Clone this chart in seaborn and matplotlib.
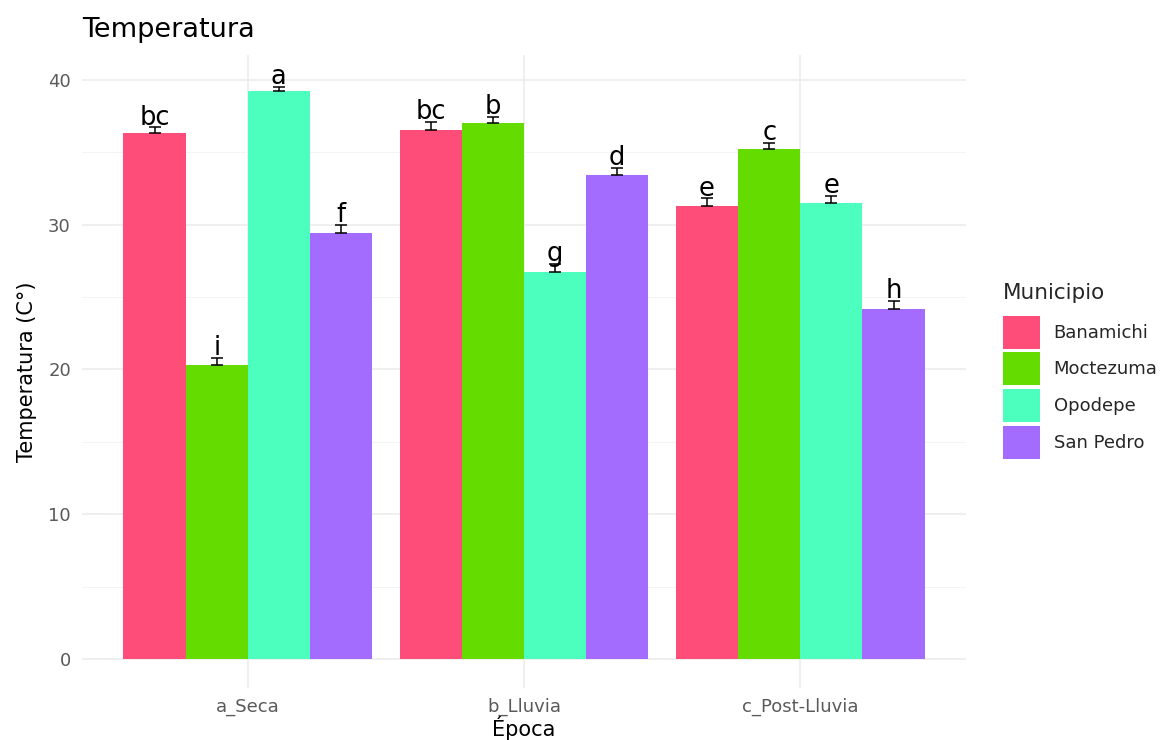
import numpy as np
import pandas as pd
import seaborn as sns
import matplotlib
matplotlib.use("Agg")
import matplotlib.pyplot as plt

# Mean temperature per season and municipality, with standard error and
# significance-group letters from the post-hoc comparison.
epocas = ["a_Seca", "b_Lluvia", "c_Post-Lluvia"]
municipios = ["Banamichi", "Moctezuma", "Opodepe", "San Pedro"]

temp_seca = [36.3, 20.3, 39.2, 29.4]
temp_lluvia = [36.5, 37.0, 26.7, 33.4]
temp_post = [31.3, 35.2, 31.5, 24.2]

se_seca = [0.4, 0.5, 0.3, 0.6]
se_lluvia = [0.55, 0.45, 0.55, 0.5]
se_post = [0.5, 0.45, 0.5, 0.5]

letras_seca = ["bc", "i", "a", "f"]
letras_lluvia = ["bc", "b", "g", "d"]
letras_post = ["e", "c", "e", "h"]

colores = ["#FF4D79", "#64DC00", "#4DFFBE", "#A36CFF"]

rows = []
for ep, vals, ses, lets in zip(
    epocas,
    [temp_seca, temp_lluvia, temp_post],
    [se_seca, se_lluvia, se_post],
    [letras_seca, letras_lluvia, letras_post],
):
    for mun, v, s, l in zip(municipios, vals, ses, lets):
        rows.append({"Epoca": ep, "Municipio": mun, "Temperatura": v, "se": s, "letra": l})
df = pd.DataFrame(rows)

sns.set_theme(style="white")
plt.rcParams["font.family"] = ["DejaVu Sans"]

fig = plt.figure(figsize=(11.67, 7.40), dpi=100)
ax = fig.add_axes([0.0703, 0.0703, 0.7575, 0.8554])

sns.barplot(
    data=df, x="Epoca", y="Temperatura", hue="Municipio",
    order=epocas, hue_order=municipios, palette=colores,
    width=0.9, errorbar=None, saturation=1, linewidth=0, ax=ax, zorder=2,
)

# error bars (upper half) and group letters on top of each bar
for mun, cont in zip(municipios, ax.containers):
    sub = df[df["Municipio"] == mun].set_index("Epoca").loc[epocas]
    for patch, (_, r) in zip(cont.patches, sub.iterrows()):
        xc = patch.get_x() + patch.get_width() / 2
        h = patch.get_height()
        ax.errorbar(xc, h, yerr=[[0], [r["se"]]], fmt="none", ecolor="black",
                    elinewidth=1.1, capsize=4.0, capthick=1.1, zorder=3)
        ax.text(xc, h + r["se"] + 0.2, r["letra"], ha="center", va="baseline",
                fontsize=18.5, color="black", zorder=4)

ax.set_xlim(-0.6, 2.6)
ax.set_ylim(-1.985, 41.7)
ax.set_yticks([0, 10, 20, 30, 40])
ax.set_yticks([5, 15, 25, 35], minor=True)
ax.grid(True, which="major", axis="both", color="#EBEBEB", linewidth=1.1, zorder=0)
ax.grid(True, which="minor", axis="y", color="#F3F3F3", linewidth=0.6, zorder=0)
ax.set_axisbelow(True)
for sp in ax.spines.values():
    sp.set_visible(False)
ax.tick_params(axis="both", which="both", length=0, labelsize=13, colors="#5A5A5A")
ax.tick_params(axis="y", pad=8)
ax.tick_params(axis="x", pad=7)

ax.set_xlabel("Época", fontsize=15, color="black", labelpad=0)
ax.set_ylabel("Temperatura (C°)", fontsize=15, color="black", labelpad=8)
ax.set_title("Temperatura", loc="left", fontsize=19.5, color="black", pad=13)

leg = ax.legend(
    title="Municipio", loc="upper left", bbox_to_anchor=(1003 / 1167, 1 - 283 / 740),
    bbox_transform=fig.transFigure, frameon=False, fontsize=13, title_fontsize=15.5,
    handlelength=2.05, handleheight=2.44, labelspacing=0.2, handletextpad=0.75,
    borderpad=0, borderaxespad=0, alignment="left",
)
# a little more room between the legend title and the keys
leg._legend_box.sep = 9

fig.savefig("out.png", dpi=100)
